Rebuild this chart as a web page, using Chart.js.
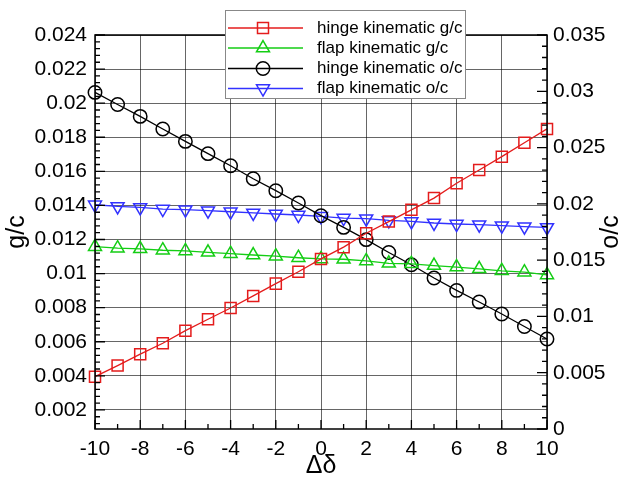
<!DOCTYPE html>
<html>
<head>
<meta charset="utf-8">
<script src="https://cdn.jsdelivr.net/npm/chart.js@4/dist/chart.umd.min.js"></script>
<style>
  html, body { margin: 0; padding: 0; background: #fff; }
  #c { display: block; }
</style>
</head>
<body>
<canvas id="c" width="624" height="481"></canvas>
<script>
// ---- data ----
const deltaValues = [-10,-9,-8,-7,-6,-5,-4,-3,-2,-1,0,1,2,3,4,5,6,7,8,9,10];
const hingeGC = [0.00395,0.0046,0.00527,0.00591,0.00665,0.00732,0.00798,0.00869,0.00941,0.01011,0.01086,0.01155,0.01237,0.01305,0.01374,0.01443,0.0153,0.01608,0.01686,0.01768,0.01849];
const flapGC  = [0.01158,0.01149,0.01145,0.01137,0.01133,0.01125,0.01117,0.01109,0.01102,0.01093,0.01086,0.01084,0.01074,0.0106,0.01057,0.01047,0.01038,0.01028,0.01016,0.01008,0.00992];
const hingeOC = [0.0299,0.02883,0.02777,0.02665,0.02555,0.02446,0.02339,0.02223,0.02117,0.02008,0.01895,0.01791,0.01682,0.01568,0.01459,0.01341,0.01231,0.01128,0.01022,0.00911,0.00799];
const flapOC  = [0.01992,0.01977,0.01968,0.01954,0.01948,0.01939,0.0193,0.01919,0.0191,0.01901,0.01889,0.01874,0.01868,0.01853,0.01844,0.0183,0.01821,0.01815,0.01806,0.01797,0.01791];
const seriesLabels = ['hinge kinematic g/c','flap kinematic g/c','hinge kinematic o/c','flap kinematic o/c'];
const xTickValues = [-10,-8,-6,-4,-2,0,2,4,6,8,10];
const xMinorValues = [-9,-7,-5,-3,-1,1,3,5,7,9];
const leftTickValues = [0.002,0.004,0.006,0.008,0.01,0.012,0.014,0.016,0.018,0.02,0.022,0.024];
const rightTickValues = [0,0.005,0.01,0.015,0.02,0.025,0.03,0.035];
const xTitle = 'Δδ', leftTitle = 'g/c', rightTitle = 'o/c';

// ---- styles ----
const RED = 'rgb(228,28,28)', GREEN = 'rgb(20,205,20)', BLACK = '#000', BLUE = 'rgb(50,50,255)';
const FONT = '"Liberation Sans", Arial, Helvetica, sans-serif';
const pts = (ys) => deltaValues.map((x, i) => ({x: x, y: ys[i]}));
const fmt = (v) => String(Number(Number(v).toFixed(4)));

const mk = (label, ys, color, style, r, rot, axis) => ({
  label: label, data: pts(ys), yAxisID: axis, showLine: true,
  borderColor: color, borderWidth: 1.3, backgroundColor: 'transparent',
  pointStyle: style, pointRadius: r, pointHoverRadius: r, pointRotation: rot,
  pointBorderColor: color, pointBackgroundColor: 'transparent', pointBorderWidth: 1.5,
  clip: false, tension: 0
});

const legendMarkers = [
  {style:'rect', color:RED}, {style:'triangle', color:GREEN},
  {style:'circle', color:BLACK}, {style:'invtriangle', color:BLUE}
];

function drawMarker(ctx, style, x, y, color) {
  ctx.save();
  ctx.strokeStyle = color; ctx.lineWidth = 1.5;
  ctx.beginPath();
  if (style === 'rect') {
    ctx.rect(x - 5.5, y - 5.5, 11, 11);
  } else if (style === 'circle') {
    ctx.arc(x, y, 6.7, 0, Math.PI * 2);
  } else {
    const r = 7.5, s = style === 'triangle' ? 1 : -1;
    for (let k = 0; k < 3; k++) {
      const a = k * 2 * Math.PI / 3;
      const px = x + Math.sin(a) * r, py = y - s * Math.cos(a) * r;
      if (k === 0) ctx.moveTo(px, py); else ctx.lineTo(px, py);
    }
    ctx.closePath();
  }
  ctx.stroke();
  ctx.restore();
}

const decor = {
  id: 'decor',
  afterDraw(chart) {
    const ctx = chart.ctx, xs = chart.scales.x, yl = chart.scales.y, yr = chart.scales.y1;
    const ca = chart.chartArea;
    ctx.save();
    ctx.strokeStyle = '#000'; ctx.lineWidth = 1.3;
    ctx.beginPath();
    // left axis ticks (inward)
    leftTickValues.forEach(v => { const y = yl.getPixelForValue(v); ctx.moveTo(ca.left, y); ctx.lineTo(ca.left + 10, y); });
    for (let v = 0.0012; v < 0.024; v += 0.0004) {
      if (Math.abs(v / 0.002 - Math.round(v / 0.002)) < 1e-6) continue;
      const y = yl.getPixelForValue(v); ctx.moveTo(ca.left, y); ctx.lineTo(ca.left + 5, y);
    }
    // right axis ticks
    rightTickValues.forEach(v => { const y = yr.getPixelForValue(v); ctx.moveTo(ca.right, y); ctx.lineTo(ca.right - 10, y); });
    for (let i = 1; i < 35; i++) {
      if (i % 5 === 0) continue;
      const y = yr.getPixelForValue(i * 0.001); ctx.moveTo(ca.right, y); ctx.lineTo(ca.right - 5, y);
    }
    // bottom ticks
    xTickValues.forEach(v => { const x = xs.getPixelForValue(v); ctx.moveTo(x, ca.bottom); ctx.lineTo(x, ca.bottom - 9); });
    xMinorValues.forEach(v => { const x = xs.getPixelForValue(v); ctx.moveTo(x, ca.bottom); ctx.lineTo(x, ca.bottom - 5); });
    ctx.stroke();
    // frame
    ctx.lineWidth = 1.5;
    ctx.strokeRect(ca.left, ca.top, ca.right - ca.left, ca.bottom - ca.top);

    // right axis title
    ctx.fillStyle = '#000';
    ctx.font = '25px ' + FONT;
    ctx.textAlign = 'center'; ctx.textBaseline = 'middle';
    ctx.save();
    ctx.translate(611, (ca.top + ca.bottom) / 2);
    ctx.rotate(-Math.PI / 2);
    ctx.fillText(rightTitle, 0, 0);
    ctx.restore();

    // legend
    const bx = 225, by = 10, bw = 240, bh = 88;
    ctx.fillStyle = '#fff';
    ctx.fillRect(bx, by, bw, bh);
    ctx.strokeStyle = '#888'; ctx.lineWidth = 1;
    ctx.strokeRect(bx + 0.5, by + 0.5, bw, bh);
    const rows = [28, 48, 68.5, 88.5];
    chart.data.datasets.forEach((ds, i) => {
      const y = rows[i];
      ctx.strokeStyle = ds.borderColor; ctx.lineWidth = 1.5;
      ctx.beginPath(); ctx.moveTo(228, y); ctx.lineTo(303, y); ctx.stroke();
      drawMarker(ctx, legendMarkers[i].style, 263, y, legendMarkers[i].color);
      ctx.fillStyle = '#000';
      ctx.font = '17px ' + FONT;
      ctx.textAlign = 'left'; ctx.textBaseline = 'middle';
      ctx.fillText(ds.label, 317, y);
    });
    ctx.restore();
  }
};

new Chart(document.getElementById('c'), {
  type: 'scatter',
  data: {
    datasets: [
      mk(seriesLabels[0], hingeGC, RED, 'rect', 7.8, 0, 'y'),
      mk(seriesLabels[1], flapGC, GREEN, 'triangle', 7.5, 0, 'y'),
      mk(seriesLabels[2], hingeOC, BLACK, 'circle', 6.7, 0, 'y1'),
      mk(seriesLabels[3], flapOC, BLUE, 'triangle', 7.5, 180, 'y1')
    ]
  },
  options: {
    responsive: false, animation: false, devicePixelRatio: 1,
    layout: { padding: { top: 35, left: 0, right: 0, bottom: 0 } },
    plugins: { legend: { display: false }, tooltip: { enabled: false } },
    scales: {
      x: {
        type: 'linear', position: 'bottom', min: -10, max: 10,
        afterBuildTicks: (s) => { s.ticks = xTickValues.map(v => ({value: v})); },
        afterFit: (s) => { s.height = 52; },
        grid: { color: 'rgba(0,0,0,0.6)', lineWidth: 1, drawTicks: false },
        border: { display: false },
        ticks: { color: '#000', font: { family: FONT, size: 21 }, padding: 8, maxRotation: 0, autoSkip: false, callback: (v) => String(v) },
        title: { display: true, text: xTitle, color: '#000', font: { family: FONT, size: 25 }, padding: { top: 1, bottom: 0 } }
      },
      y: {
        type: 'linear', position: 'left', min: 0.00088, max: 0.024,
        afterBuildTicks: (s) => { s.ticks = leftTickValues.map(v => ({value: v})); },
        afterFit: (s) => { s.width = 95; },
        grid: { color: 'rgba(0,0,0,0.6)', lineWidth: 1, drawTicks: false },
        border: { display: false },
        ticks: { color: '#000', font: { family: FONT, size: 21 }, padding: 8, autoSkip: false, callback: fmt },
        title: { display: true, text: leftTitle, color: '#000', font: { family: FONT, size: 25 }, padding: { top: 2, bottom: 0 } }
      },
      y1: {
        type: 'linear', position: 'right', min: 0, max: 0.035,
        afterBuildTicks: (s) => { s.ticks = rightTickValues.map(v => ({value: v})); },
        afterFit: (s) => { s.width = 77; },
        grid: { display: false, drawTicks: false },
        border: { display: false },
        ticks: { color: '#000', font: { family: FONT, size: 21 }, padding: 6, autoSkip: false, callback: fmt }
      }
    }
  },
  plugins: [decor]
});
</script>
</body>
</html>
